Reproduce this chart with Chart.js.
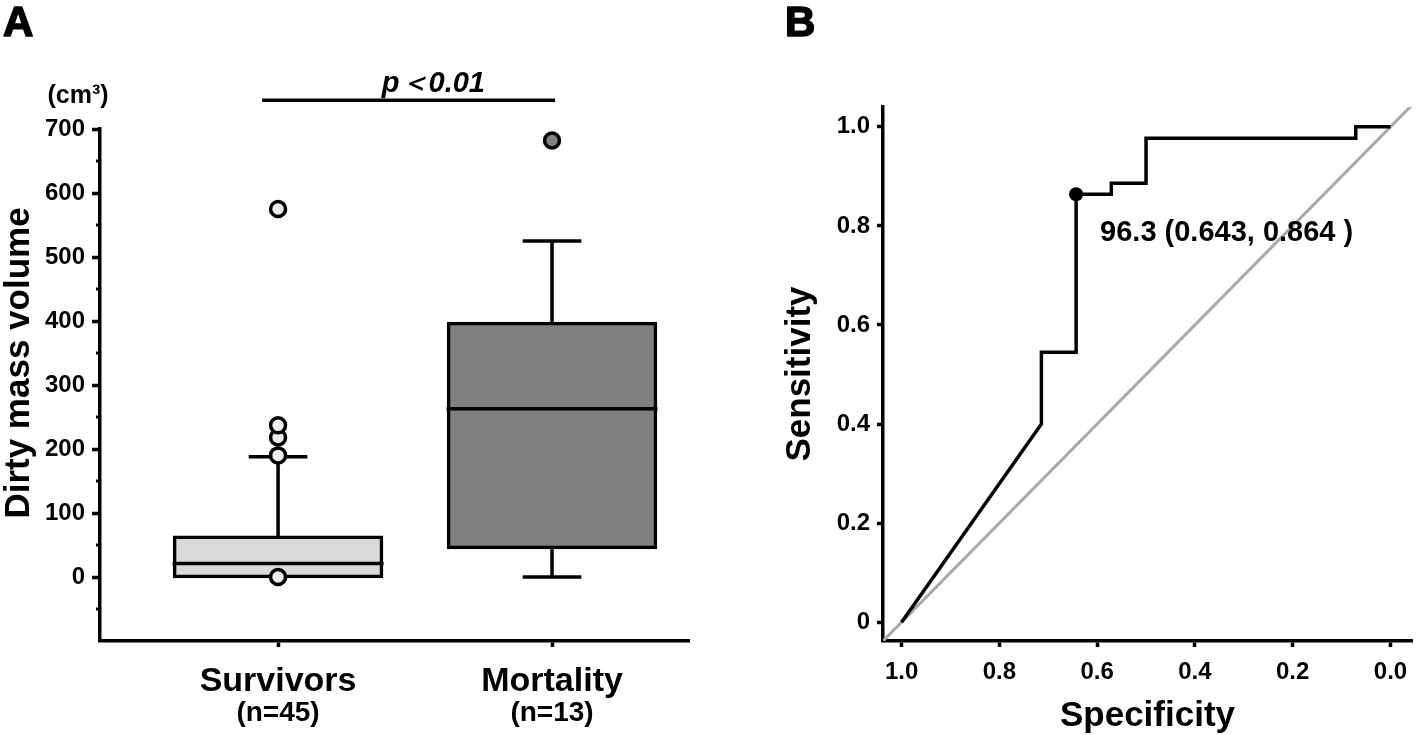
<!DOCTYPE html>
<html><head><meta charset="utf-8">
<script src="https://cdn.jsdelivr.net/npm/chart.js@4.4.1/dist/chart.umd.min.js"></script>
<style>
html,body{margin:0;padding:0;background:#fff;overflow:hidden;width:1419px;height:735px;}
#wrapA{position:absolute;left:0;top:0;width:700px;height:745px;}
#wrapB{position:absolute;left:770px;top:0;width:649px;height:745px;}
canvas{display:block;}
</style></head><body>
<div id="wrapA"><canvas id="chartA" width="700" height="745"></canvas></div>
<div id="wrapB"><canvas id="chartB" width="649" height="745"></canvas></div>
<script>
// ---------- Panel A data ----------
const groups = ['Survivors', 'Mortality'];
const groupCounts = ['(n=45)', '(n=13)'];
const groupPositions = [1, 2];
const lowerQuartile = [0, 46];
const medianValues = [21, 263];
const upperQuartile = [62, 396];
const whiskerLow = [0, 0];
const whiskerHigh = [188, 525];
const survivorOutliers = [0, 190, 218, 237, 575];
const mortalityOutliers = [682];
const volumeTicks = [0, 100, 200, 300, 400, 500, 600, 700];
const volumeMinorTicks = [-50, 50, 150, 250, 350, 450, 550, 650];
const volumeUnit = '(cm³)';
const volumeTitle = 'Dirty mass volume';
const significanceText = 'p＜0.01';

// ---------- Panel B data ----------
const rocSpecificity = [1.0, 0.714, 0.714, 0.643, 0.643, 0.571, 0.571, 0.5, 0.5, 0.071, 0.071, 0.0];
const rocSensitivity = [0.0, 0.4, 0.545, 0.545, 0.864, 0.864, 0.886, 0.886, 0.977, 0.977, 1.0, 1.0];
const cutoffSpecificity = [0.643];
const cutoffSensitivity = [0.864];
const cutoffLabel = '96.3 (0.643, 0.864 )';
const rocTickValues = [0, 0.2, 0.4, 0.6, 0.8, 1.0];
const specificityTickLabels = ['0.0', '0.2', '0.4', '0.6', '0.8', '1.0'];
const sensitivityTickLabels = ['0', '0.2', '0.4', '0.6', '0.8', '1.0'];

// ---------- styling ----------
const FONT = "'Liberation Sans', Arial, Helvetica, sans-serif";
const LW = 3.5;
const BOX_HALF = 0.385;
const CAP_HALF = 0.107;
const boxColors = ['#d9d9d9', '#808080'];
const outlierColors = ['#eeeeee', '#808080'];

function seg(x1, y1, x2, y2) {
  return { type: 'line', data: [{x: x1, y: y1}, {x: x2, y: y2}], borderColor: '#000',
           borderWidth: LW, pointRadius: 0, pointHoverRadius: 0, fill: false, tension: 0, order: 2,
           borderCapStyle: 'butt' };
}

const boxDatasets = [];
groupPositions.forEach((p, i) => {
  boxDatasets.push(seg(p - BOX_HALF, medianValues[i], p + BOX_HALF, medianValues[i]));
  boxDatasets.push(seg(p, upperQuartile[i], p, whiskerHigh[i]));
  boxDatasets.push(seg(p - CAP_HALF, whiskerHigh[i], p + CAP_HALF, whiskerHigh[i]));
  if (whiskerLow[i] < lowerQuartile[i]) {
    boxDatasets.push(seg(p, whiskerLow[i], p, lowerQuartile[i]));
    boxDatasets.push(seg(p - CAP_HALF, whiskerLow[i], p + CAP_HALF, whiskerLow[i]));
  }
});

function axisCommon(tickLen) {
  return {
    offset: false,
    grid: { display: true, offset: false, drawOnChartArea: false, drawTicks: true, tickLength: tickLen, tickWidth: LW, tickColor: '#000' },
    border: { display: true, color: '#000', width: LW }
  };
}

function panelLetter(ctx, letter, x) {
  ctx.font = `bold 42px ${FONT}`;
  ctx.textAlign = 'left'; ctx.textBaseline = 'alphabetic';
  ctx.lineWidth = 1.6; ctx.lineJoin = 'round';
  ctx.fillText(letter, x, 36);
  ctx.strokeText(letter, x, 36);
}

const panelAPlugin = {
  id: 'panelA',
  afterDraw(chart) {
    const {ctx, scales: {x, y}} = chart;
    ctx.save();
    ctx.fillStyle = '#000';
    ctx.strokeStyle = '#000';
    // minor ticks
    ctx.lineWidth = 3;
    volumeMinorTicks.forEach(v => {
      const py = y.getPixelForValue(v);
      ctx.beginPath(); ctx.moveTo(x.left - 4, py); ctx.lineTo(x.left, py); ctx.stroke();
    });
    panelLetter(ctx, 'A', 3);
    // unit
    ctx.font = `bold 25px ${FONT}`;
    ctx.textAlign = 'center'; ctx.textBaseline = 'middle';
    ctx.fillText(volumeUnit, 78, 96);
    // y title
    ctx.save();
    ctx.translate(19, 363);
    ctx.rotate(-Math.PI / 2);
    ctx.font = `bold 35px ${FONT}`;
    ctx.textAlign = 'center'; ctx.textBaseline = 'middle';
    ctx.fillText(volumeTitle, 0, 0);
    ctx.restore();
    // group counts
    ctx.font = `bold 28px ${FONT}`;
    ctx.textAlign = 'center'; ctx.textBaseline = 'middle';
    groupPositions.forEach((p, i) => ctx.fillText(groupCounts[i], x.getPixelForValue(p), 713));
    // significance bar
    const sy = y.getPixelForValue(745);
    ctx.lineWidth = 3.5;
    ctx.beginPath();
    ctx.moveTo(x.getPixelForValue(0.942), sy);
    ctx.lineTo(x.getPixelForValue(2.011), sy);
    ctx.stroke();
    ctx.font = `italic bold 29px ${FONT}`;
    ctx.textAlign = 'center'; ctx.textBaseline = 'alphabetic';
    ctx.fillText(significanceText, x.getPixelForValue(1.567), 92);
    ctx.restore();
  }
};

new Chart(document.getElementById('chartA'), {
  type: 'scatter',
  data: {
    datasets: [
      { type: 'bar', data: groupPositions.map((p, i) => ({x: p, y: [lowerQuartile[i], upperQuartile[i]]})),
        backgroundColor: boxColors, borderColor: '#000', borderWidth: LW, borderSkipped: false,
        inflateAmount: LW / 2, barThickness: 207, order: 3 },
      ...boxDatasets,
      { type: 'scatter', data: survivorOutliers.map(v => ({x: groupPositions[0], y: v})),
        pointRadius: 7.5, pointHoverRadius: 7.5, borderWidth: LW, borderColor: '#000',
        backgroundColor: outlierColors[0], order: 1 },
      { type: 'scatter', data: mortalityOutliers.map(v => ({x: groupPositions[1], y: v})),
        pointRadius: 7.5, pointHoverRadius: 7.5, borderWidth: LW, borderColor: '#000',
        backgroundColor: outlierColors[1], order: 1 }
    ]
  },
  options: {
    responsive: false, animation: false, devicePixelRatio: 1,
    layout: { padding: { top: 129, right: 11, left: 0, bottom: 0 } },
    plugins: { legend: { display: false }, tooltip: { enabled: false } },
    scales: {
      x: Object.assign(axisCommon(6), {
        type: 'linear', min: 0.35, max: 2.5,
        afterBuildTicks: s => { s.ticks = groupPositions.map(v => ({value: v})); },
        afterFit: s => { s.height = 104; },
        ticks: { color: '#000', font: { family: FONT, size: 34, weight: 'bold' }, padding: 14,
                 autoSkip: false, maxRotation: 0, callback: (v, i) => groups[i] }
      }),
      y: Object.assign(axisCommon(8), {
        type: 'linear', min: -100, max: 700,
        afterBuildTicks: s => { s.ticks = volumeTicks.map(v => ({value: v})); },
        afterFit: s => { s.width = 100; },
        ticks: { color: '#000', font: { family: FONT, size: 24, weight: 'bold' }, padding: 7,
                 callback: v => String(v) }
      })
    }
  },
  plugins: [panelAPlugin]
});

// ---------- Panel B ----------
const X_MIN = -0.044, X_MAX = 1.038, Y_MIN = -0.038, Y_MAX = 1.04;
const panelBPlugin = {
  id: 'panelB',
  afterDraw(chart) {
    const {ctx, scales: {x, y}} = chart;
    ctx.save();
    ctx.fillStyle = '#000';
    ctx.strokeStyle = '#000';
    panelLetter(ctx, 'B', 15);
    ctx.font = `bold 29px ${FONT}`;
    ctx.textAlign = 'left'; ctx.textBaseline = 'middle';
    ctx.fillText(cutoffLabel, x.getPixelForValue(0.594), y.getPixelForValue(0.786));
    ctx.restore();
  }
};

new Chart(document.getElementById('chartB'), {
  type: 'scatter',
  data: {
    datasets: [
      { type: 'line', data: [{x: X_MAX, y: 1 - X_MAX}, {x: X_MIN, y: 1 - X_MIN}],
        borderColor: '#aaaaaa', borderWidth: 3, pointRadius: 0, pointHoverRadius: 0, fill: false, order: 3 },
      { type: 'line', data: rocSpecificity.map((s, i) => ({x: s, y: rocSensitivity[i]})),
        borderColor: '#000', borderWidth: LW, pointRadius: 0, pointHoverRadius: 0, fill: false,
        tension: 0, order: 2, borderJoinStyle: 'miter' },
      { type: 'scatter', data: cutoffSpecificity.map((s, i) => ({x: s, y: cutoffSensitivity[i]})),
        pointRadius: 7, pointHoverRadius: 7, backgroundColor: '#000', borderColor: '#000', borderWidth: 0, order: 1 }
    ]
  },
  options: {
    responsive: false, animation: false, devicePixelRatio: 1,
    layout: { padding: { top: 107, right: 0, left: 0, bottom: 0 } },
    plugins: { legend: { display: false }, tooltip: { enabled: false } },
    scales: {
      x: Object.assign(axisCommon(6), {
        type: 'linear', reverse: true, min: X_MIN, max: X_MAX,
        afterBuildTicks: s => { s.ticks = rocTickValues.map(v => ({value: v})); },
        afterFit: s => { s.height = 104; },
        ticks: { color: '#000', font: { family: FONT, size: 24, weight: 'bold' }, padding: 11,
                 autoSkip: false, maxRotation: 0, callback: (v, i) => specificityTickLabels[i] },
        title: { display: true, text: 'Specificity', color: '#000',
                 font: { family: FONT, size: 35, weight: 'bold' }, padding: { top: 0, bottom: 8 } }
      }),
      y: Object.assign(axisCommon(6), {
        type: 'linear', min: Y_MIN, max: Y_MAX,
        afterBuildTicks: s => { s.ticks = rocTickValues.map(v => ({value: v})); },
        afterFit: s => { s.width = 113; },
        ticks: { color: '#000', font: { family: FONT, size: 24, weight: 'bold' }, padding: 7,
                 callback: (v, i) => sensitivityTickLabels[i] },
        title: { display: true, text: 'Sensitivity', color: '#000',
                 font: { family: FONT, size: 35, weight: 'bold' }, padding: { top: 9, bottom: 0 } }
      })
    }
  },
  plugins: [panelBPlugin]
});
</script>
</body></html>
